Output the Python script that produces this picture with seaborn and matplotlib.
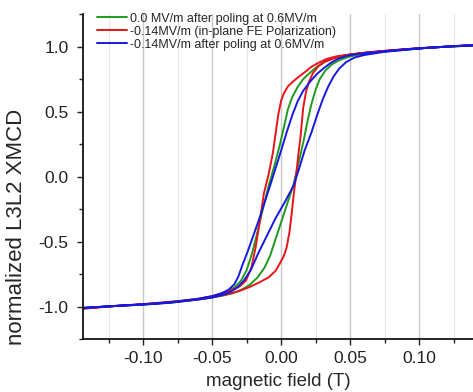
import pandas as pd
import seaborn as sns
import matplotlib.pyplot as plt
from matplotlib.ticker import MultipleLocator

# hysteresis loops, each one split in its two branches
# green: 0.0 MV/m after poling at 0.6MV/m
green_down_field = [0.140, 0.125, 0.110, 0.095, 0.080, 0.065, 0.050, 0.042, 0.036, 0.031, 0.026, 0.021,
                    0.016, 0.012, 0.008, 0.005, 0.002, -0.001, -0.005, -0.009, -0.013, -0.017, -0.021,
                    -0.025, -0.029, -0.034, -0.040, -0.050, -0.060, -0.075, -0.090, -0.105, -0.120, -0.143]
green_down_xmcd = [1.010, 1.000, 0.995, 0.982, 0.970, 0.955, 0.940, 0.925, 0.905, 0.880, 0.845, 0.800,
                   0.750, 0.690, 0.610, 0.520, 0.380, 0.240, 0.080, -0.070, -0.240, -0.420, -0.590,
                   -0.720, -0.800, -0.855, -0.890, -0.922, -0.942, -0.960, -0.975, -0.986, -0.996, -1.010]
green_up_field = [-0.143, -0.120, -0.100, -0.080, -0.060, -0.050, -0.042, -0.035, -0.029, -0.023, -0.017,
                  -0.012, -0.008, -0.004, 0.001, 0.005, 0.009, 0.013, 0.016, 0.019, 0.022, 0.025, 0.028,
                  0.032, 0.037, 0.043, 0.050, 0.060, 0.075, 0.090, 0.105, 0.120, 0.140]
green_up_xmcd = [-1.010, -0.996, -0.985, -0.970, -0.946, -0.930, -0.915, -0.897, -0.872, -0.835, -0.775,
                 -0.700, -0.610, -0.480, -0.320, -0.190, -0.060, 0.120, 0.260, 0.420, 0.560, 0.670, 0.750,
                 0.815, 0.865, 0.900, 0.925, 0.945, 0.962, 0.976, 0.990, 1.000, 1.010]

# red: -0.14MV/m (in-plane FE Polarization)
red_down_field = [0.140, 0.125, 0.110, 0.095, 0.080, 0.065, 0.050, 0.040, 0.033, 0.027, 0.022, 0.018,
                  0.013, 0.009, 0.005, 0.002, 0.000, -0.002, -0.004, -0.006, -0.009, -0.0125, -0.015,
                  -0.0185, -0.0215, -0.0255, -0.030, -0.035, -0.042, -0.050, -0.060, -0.075, -0.090,
                  -0.105, -0.120, -0.143]
red_down_xmcd = [1.012, 1.003, 0.993, 0.983, 0.972, 0.958, 0.940, 0.925, 0.905, 0.875, 0.845, 0.810,
                 0.770, 0.735, 0.695, 0.640, 0.585, 0.480, 0.330, 0.180, 0.020, -0.130, -0.315,
                 -0.545, -0.700, -0.800, -0.845, -0.870, -0.895, -0.920, -0.940, -0.958, -0.972,
                 -0.985, -0.995, -1.015]
red_up_field = [-0.143, -0.120, -0.100, -0.080, -0.060, -0.050, -0.042, -0.035, -0.029, -0.023, -0.016,
                -0.009, -0.004, -0.001, 0.002, 0.004, 0.006, 0.0075, 0.009, 0.011, 0.0125, 0.014, 0.016,
                0.018, 0.020, 0.023, 0.027, 0.032, 0.039, 0.050, 0.060, 0.075, 0.090, 0.105, 0.120, 0.140]
red_up_xmcd = [-1.015, -0.995, -0.983, -0.968, -0.945, -0.930, -0.912, -0.895, -0.875, -0.850, -0.815,
               -0.775, -0.725, -0.670, -0.610, -0.545, -0.430, -0.300, -0.150, 0.025, 0.170, 0.300, 0.530,
               0.650, 0.725, 0.795, 0.850, 0.885, 0.912, 0.938, 0.952, 0.966, 0.980, 0.991, 1.000, 1.014]

# blue: -0.14MV/m after poling at 0.6MV/m
blue_down_field = [0.140, 0.125, 0.110, 0.095, 0.080, 0.065, 0.055, 0.047, 0.041, 0.036, 0.031, 0.026,
                   0.021, 0.016, 0.012, 0.008, 0.004, 0.000, -0.004, -0.008, -0.012, -0.016, -0.020,
                   -0.024, -0.028, -0.031, -0.034, -0.038, -0.043, -0.050, -0.060, -0.075, -0.090,
                   -0.105, -0.120, -0.143]
blue_down_xmcd = [1.010, 1.004, 0.992, 0.984, 0.970, 0.955, 0.943, 0.928, 0.905, 0.875, 0.835, 0.790,
                  0.730, 0.660, 0.580, 0.470, 0.340, 0.200, 0.065, -0.070, -0.200, -0.330, -0.450,
                  -0.570, -0.680, -0.770, -0.830, -0.870, -0.897, -0.920, -0.940, -0.960, -0.975,
                  -0.985, -0.995, -1.010]
blue_up_field = [-0.143, -0.120, -0.100, -0.080, -0.060, -0.050, -0.043, -0.037, -0.032, -0.027, -0.022,
                 -0.017, -0.011, -0.004, 0.003, 0.009, 0.013, 0.017, 0.022, 0.026, 0.030, 0.034, 0.038,
                 0.042, 0.047, 0.053, 0.060, 0.075, 0.090, 0.105, 0.120, 0.140]
blue_up_xmcd = [-1.010, -0.995, -0.985, -0.970, -0.945, -0.930, -0.912, -0.890, -0.855, -0.800, -0.720,
                -0.600, -0.470, -0.320, -0.190, -0.070, 0.060, 0.200, 0.340, 0.470, 0.590, 0.690, 0.770,
                0.830, 0.880, 0.915, 0.935, 0.960, 0.975, 0.990, 1.000, 1.010]

labels = ["0.0 MV/m after poling at 0.6MV/m",
          "-0.14MV/m (in-plane FE Polarization)",
          "-0.14MV/m after poling at 0.6MV/m"]
colors = ["#1f9a1f", "#e8141a", "#1818e0"]

branches = [
    (labels[0], green_down_field + green_up_field, green_down_xmcd + green_up_xmcd),
    (labels[1], red_down_field + red_up_field, red_down_xmcd + red_up_xmcd),
    (labels[2], blue_down_field + blue_up_field, blue_down_xmcd + blue_up_xmcd),
]
frames = []
for lab, f, v in branches:
    d = pd.DataFrame({"field": f, "xmcd": v})
    d["series"] = lab
    frames.append(d)
df = pd.concat(frames, ignore_index=True)

sns.set_style("ticks")
plt.rcParams["font.family"] = ["Liberation Sans", "DejaVu Sans"]

fig = plt.figure(figsize=(4.73, 3.92), dpi=100)
ax = fig.add_axes([0.1755, 0.135, 0.8245, 0.829])

sns.lineplot(data=df, x="field", y="xmcd", hue="series", palette=colors, sort=False,
             estimator=None, units="series", linewidth=1.4, ax=ax)

ax.set_xlim(-0.1435, 0.139)
ax.set_ylim(-1.25, 1.25)
ax.xaxis.set_minor_locator(MultipleLocator(0.025))
ax.yaxis.set_minor_locator(MultipleLocator(0.25))
ax.set_xticks([-0.10, -0.05, 0.0, 0.05, 0.10])
ax.set_xticklabels(["-0.10", "-0.05", "0.00", "0.05", "0.10"])
ax.set_yticks([-1.0, -0.5, 0.0, 0.5, 1.0])
ax.set_yticklabels(["-1.0", "-0.5", "0.0", "0.5", "1.0"])

ax.grid(axis="x", which="major", color="#c8c8c8", linewidth=1.0)
ax.grid(axis="x", which="minor", color="#e6e6e6", linewidth=0.8)
ax.set_axisbelow(True)

ax.tick_params(which="major", direction="out", length=4, width=1.0, labelsize=12.5, colors="#222222")
ax.tick_params(which="minor", direction="out", length=3, width=1.0)
ax.tick_params(axis="x", pad=4.5)
ax.tick_params(axis="y", pad=6.5)
for s in ["left", "bottom"]:
    ax.spines[s].set_linewidth(1.2)
    ax.spines[s].set_color("black")
sns.despine(ax=ax)

ax.set_xlabel("magnetic field (T)", fontsize=13.5, labelpad=5)
ax.set_ylabel("normalized L3L2 XMCD", fontsize=16)
ax.yaxis.set_label_coords(-0.144, 0.345)

ax.legend(loc="upper left", bbox_to_anchor=(0.023, 1.02), frameon=False, fontsize=9,
          handlelength=2.4, handletextpad=0.25, labelspacing=0.08, borderaxespad=0)

fig.savefig("out.png", dpi=100)
